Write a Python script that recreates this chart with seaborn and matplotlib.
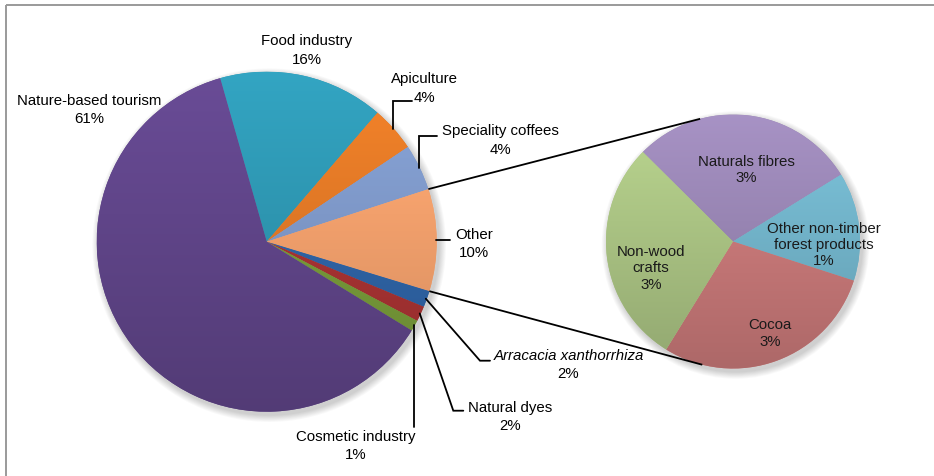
import numpy as np
import matplotlib
matplotlib.use("Agg")
import matplotlib.pyplot as plt
import matplotlib.colors as mcolors
from matplotlib.patches import Circle
import seaborn as sns

# ---------------- data ----------------
main_labels = ["Food industry", "Apiculture", "Speciality coffees", "Other",
               "Arracacia xanthorrhiza", "Natural dyes", "Cosmetic industry",
               "Nature-based tourism"]
main_values = [15.7, 4.3, 4.4, 9.7, 1.55, 1.45, 1.05, 61.8]
main_pct_text = ["16%", "4%", "4%", "10%", "2%", "2%", "1%", "61%"]
main_colors = ["#2e96b1", "#e07826", "#7e98c8", "#f2a06c",
               "#2f64a6", "#a83333", "#789b3a", "#604589"]

sub_labels = ["Naturals fibres", "Other non-timber\nforest products", "Cocoa", "Non-wood\ncrafts"]
sub_values = [2.87, 1.38, 2.88, 2.86]
sub_pct_text = ["3%", "1%", "3%", "3%"]
sub_colors = ["#9885b3", "#72b4ca", "#c97979", "#aac383"]

# ---------------- setup ----------------
W, H = 934, 477
sns.set_theme(style="white")
plt.rcParams['font.family'] = ['Liberation Sans', 'DejaVu Sans']

fig = plt.figure(figsize=(W / 100, H / 100), dpi=100)
ax = fig.add_axes([0, 0, 1, 1])


def Y(y):
    return H - y


main_c = (266.7, Y(242.7))
main_r = 170
sub_c = (733.0, Y(242.5))
sub_r = 127


def shadow(center, r):
    for k in range(8):
        ax.add_patch(Circle((center[0] + 2.5, center[1] - 3.5), r + 0.5 + k * 0.9,
                            facecolor='black', edgecolor='none', alpha=0.022, zorder=0.5))


shadow(main_c, main_r)
shadow(sub_c, sub_r)

wedges_main, _ = ax.pie(main_values, colors=main_colors, startangle=105.9,
                        counterclock=False, center=main_c, radius=main_r,
                        wedgeprops=dict(linewidth=0))
wedges_sub, _ = ax.pie(sub_values, colors=sub_colors, startangle=135.2,
                       counterclock=False, center=sub_c, radius=sub_r,
                       wedgeprops=dict(linewidth=0))


def gradient(wedges, colors, center, r):
    n = 256
    f = np.linspace(1.10, 0.86, n)
    for w, c in zip(wedges, colors):
        rgb = np.array(mcolors.to_rgb(c))
        img = np.clip(rgb[None, :] * f[:, None], 0, 1)[:, None, :]
        im = ax.imshow(img, extent=[center[0] - r, center[0] + r, center[1] - r, center[1] + r],
                       origin='upper', aspect='auto', interpolation='bilinear', zorder=1.5)
        im.set_clip_path(w)


gradient(wedges_main, main_colors, main_c, main_r)
gradient(wedges_sub, sub_colors, sub_c, sub_r)


def edge_pt(center, r, ang):
    a = np.deg2rad(ang)
    return center[0] + r * np.cos(a), center[1] + r * np.sin(a)


# connector lines between pies
w_other = wedges_main[3]
p_up = edge_pt(main_c, main_r, w_other.theta2)
p_lo = edge_pt(main_c, main_r, w_other.theta1)
q_up = edge_pt(sub_c, sub_r, 105)
q_lo = edge_pt(sub_c, sub_r, 256)
ax.plot([p_up[0], q_up[0]], [p_up[1], q_up[1]], color='black', lw=1.3, zorder=3, solid_capstyle='butt')
ax.plot([p_lo[0], q_lo[0]], [p_lo[1], q_lo[1]], color='black', lw=1.3, zorder=3, solid_capstyle='butt')

# leader lines for main pie labels
mids = [edge_pt(main_c, main_r - 1, (w.theta1 + w.theta2) / 2) for w in wedges_main]
leaders = {
    1: [(None, 101.7), (411.7, 101.7)],
    2: [(None, 137.3), (436.7, 137.3)],
    3: [(450, None)],
    4: [(480, 361.7), (490, 361.7)],
    5: [(453.3, 411.7), (463.3, 411.7)],
    6: [(None, 428)],
}
for i, pts in leaders.items():
    sx, sy = mids[i]
    xs, ys = [sx], [sy]
    for px, py in pts:
        xs.append(sx if px is None else px)
        ys.append(sy if py is None else Y(py))
    ax.plot(xs, ys, color='black', lw=1.3, zorder=3, solid_joinstyle='miter')

# main labels (center of block in image pixel coords)
label_pos = [(307, 50.5), (424.5, 88.5), (500, 140.5), (474, 244),
             (568.5, 365.5), (510, 417.5), (356, 446.5), (89, 110)]
fs = 10.8
for i, (lab, pct, (x, y)) in enumerate(zip(main_labels, main_pct_text, label_pos)):
    style = 'italic' if i == 4 else 'normal'
    ax.text(x, Y(y - 9), lab, ha='center', va='center', fontsize=fs, style=style, color='black', zorder=4)
    ax.text(x, Y(y + 9), pct, ha='center', va='center', fontsize=fs, color='black', zorder=4)

# sub pie labels
sub_pos = [(746.5, 170), (824, 245), (770, 333.5), (651, 268.5)]
for lab, pct, (x, y) in zip(sub_labels, sub_pct_text, sub_pos):
    ax.text(x, Y(y), lab + "\n" + pct, ha='center', va='center', fontsize=fs,
            linespacing=1.22, color='#1a1a1a', zorder=4)

# outer frame (top and left)
ax.plot([6, W], [Y(6), Y(6)], color='#9a9a9a', lw=1.4, zorder=5, solid_capstyle='butt')
ax.plot([6, 6], [Y(6), 0], color='#9a9a9a', lw=1.4, zorder=5, solid_capstyle='butt')

ax.set_aspect('equal')
ax.set_xlim(0, W)
ax.set_ylim(0, H)
ax.axis('off')

fig.savefig("out.png", dpi=100, facecolor='white')
